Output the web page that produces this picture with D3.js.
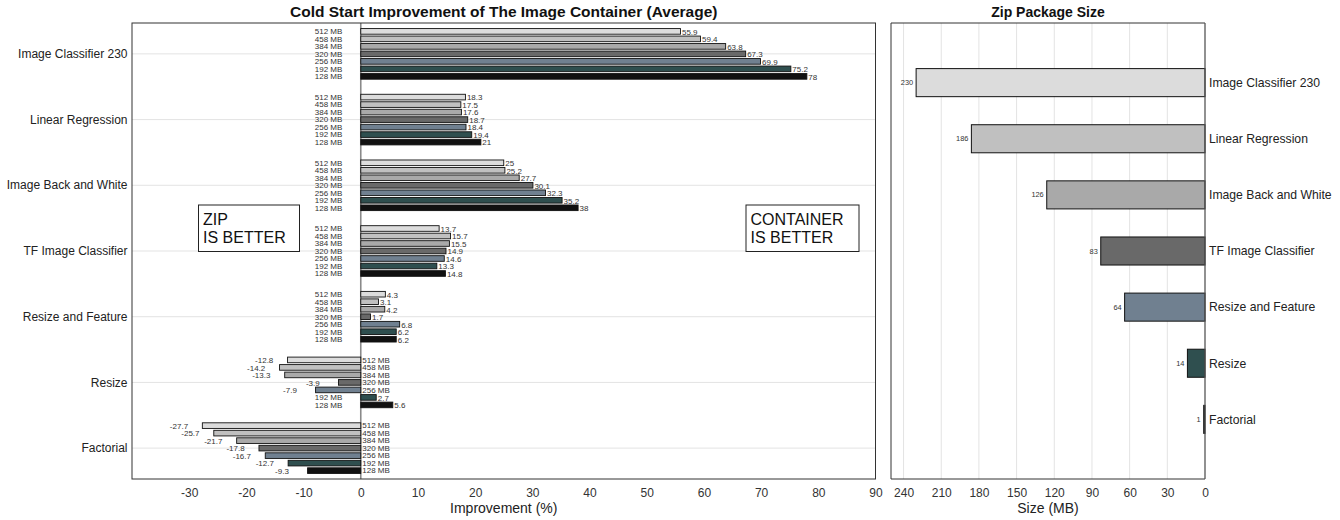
<!DOCTYPE html>
<html><head><meta charset="utf-8">
<script src="https://cdn.jsdelivr.net/npm/d3@7"></script>
<style>
body{margin:0;background:#fff}
text{font-family:"Liberation Sans",Arial,Helvetica,sans-serif}
</style>
</head><body>
<svg id="c" width="1340" height="520"></svg>
<script>
// ---------- data ----------
const categories = ["Image Classifier 230","Linear Regression","Image Back and White","TF Image Classifier","Resize and Feature","Resize","Factorial"];
const memorySizes = ["512 MB","458 MB","384 MB","320 MB","256 MB","192 MB","128 MB"];
const imageClassifier230 = [55.9, 59.4, 63.8, 67.3, 69.9, 75.2, 78];
const linearRegression   = [18.3, 17.5, 17.6, 18.7, 18.4, 19.4, 21];
const imageBackAndWhite  = [25, 25.2, 27.7, 30.1, 32.3, 35.2, 38];
const tfImageClassifier  = [13.7, 15.7, 15.5, 14.9, 14.6, 13.3, 14.8];
const resizeAndFeature   = [4.3, 3.1, 4.2, 1.7, 6.8, 6.2, 6.2];
const resize             = [-12.8, -14.2, -13.3, -3.9, -7.9, 2.7, 5.6];
const factorial          = [-27.7, -25.7, -21.7, -17.8, -16.7, -12.7, -9.3];
const improvementSeries  = [imageClassifier230, linearRegression, imageBackAndWhite, tfImageClassifier, resizeAndFeature, resize, factorial];
const zipSizes = [230, 186, 126, 83, 64, 14, 1];
const memoryColors = ["#dcdcdc","#c0c0c0","#a9a9a9","#696969","#708090","#2f4f4f","#111111"];
const zipColors    = ["#dcdcdc","#c0c0c0","#a9a9a9","#696969","#708090","#2f4f4f","#000000"];
const improvementTicks = [-30,-20,-10,0,10,20,30,40,50,60,70,80,90];
const sizeTicks = [240,210,180,150,120,90,60,30,0];

// ---------- layout ----------
const svg = d3.select("#c");
const yTop = 23, yBottom = 479;
const L = {x0:132, x1:875.5};
const R = {x0:891, x1:1205};
const txt = "#222";
const plain = d => String(d);

// ===== Left chart =====
const x = d3.scaleLinear().domain([-40,90]).range([L.x0, L.x1]);
const y = d3.scalePoint().domain(categories).range([yTop, yBottom]).padding(0.47);
const inner = d3.scaleBand().domain(memorySizes).range([-26.25, 26.25]).paddingInner(0.25).paddingOuter(0.125);

const gl = svg.append("g");
gl.selectAll("line.grid").data(categories).join("line")
  .attr("x1", L.x0).attr("x2", L.x1)
  .attr("y1", d => y(d)).attr("y2", d => y(d))
  .attr("stroke", "#e3e3e3").attr("stroke-width", 1);

gl.append("line").attr("x1", x(0)).attr("x2", x(0)).attr("y1", yTop).attr("y2", yBottom)
  .attr("stroke", "#8a8a8a").attr("stroke-width", 1.6);

const rows = [];
categories.forEach((c, ci) => {
  memorySizes.forEach((m, mi) => {
    rows.push({cat: c, mem: m, mi: mi, v: improvementSeries[ci][mi]});
  });
});
const rowY = d => y(d.cat) + inner(d.mem);
gl.selectAll("rect.bar").data(rows).join("rect")
  .attr("x", d => x(Math.min(0, d.v)))
  .attr("width", d => Math.abs(x(d.v) - x(0)))
  .attr("y", d => rowY(d))
  .attr("height", inner.bandwidth())
  .attr("fill", d => memoryColors[d.mi])
  .attr("stroke", "#111").attr("stroke-width", 0.9);

gl.selectAll("text.mem").data(rows).join("text")
  .attr("x", d => d.v >= 0 ? x(0) - 46 : x(0) + 1.5)
  .attr("y", d => rowY(d) + inner.bandwidth()/2)
  .attr("dy", "0.35em")
  .attr("font-size", 8).attr("fill", "#333")
  .text(d => d.mem);

gl.selectAll("text.val").data(rows).join("text")
  .attr("x", d => d.v >= 0 ? x(d.v) + 1.5 : x(d.v) - 32.5)
  .attr("y", d => rowY(d) + inner.bandwidth()/2 + 0.5)
  .attr("dy", "0.35em")
  .attr("font-size", 8).attr("fill", "#333")
  .text(d => plain(d.v));

gl.append("rect").attr("x", L.x0).attr("y", yTop).attr("width", L.x1 - L.x0).attr("height", yBottom - yTop)
  .attr("fill", "none").attr("stroke", "#333").attr("stroke-width", 1);

gl.selectAll("text.cat").data(categories).join("text")
  .attr("x", L.x0 - 4.5).attr("y", d => y(d)).attr("dy", "0.35em")
  .attr("text-anchor", "end").attr("font-size", 12).attr("fill", txt)
  .text(d => d);

const xAxis = d3.axisBottom(x).tickValues(improvementTicks).tickSize(0).tickPadding(9).tickFormat(plain);
const xa = gl.append("g").attr("transform", `translate(0,${yBottom})`).call(xAxis);
xa.select(".domain").remove();
xa.selectAll("text").attr("font-size", 12).attr("fill", "#333").attr("font-family", '"Liberation Sans",Arial,sans-serif');

gl.append("text").attr("x", (L.x0 + L.x1)/2).attr("y", 513).attr("text-anchor", "middle")
  .attr("font-size", 14).attr("fill", txt).text("Improvement (%)");
gl.append("text").attr("x", (L.x0 + L.x1)/2).attr("y", 17).attr("text-anchor", "middle")
  .attr("font-size", 15.5).attr("font-weight", "bold").attr("fill", "#111")
  .text("Cold Start Improvement of The Image Container (Average)");

function note(bx, lines, w) {
  const g = gl.append("g");
  g.append("rect").attr("x", bx).attr("y", 205).attr("width", w).attr("height", 46.5)
    .attr("fill", "#fff").attr("stroke", "#222").attr("stroke-width", 1);
  lines.forEach((t, i) => g.append("text").attr("x", bx + 4.5).attr("y", 224.5 + i*18.7)
    .attr("font-size", 16).attr("fill", "#111").text(t));
}
note(198.5, ["ZIP", "IS BETTER"], 101);
note(746, ["CONTAINER", "IS BETTER"], 113);

// ===== Right chart =====
const xr = d3.scaleLinear().domain([250, 0]).range([R.x0, R.x1]);
const yr = d3.scaleBand().domain(categories).range([yTop, yBottom]).paddingInner(0.5).paddingOuter(0.8125);
const gr = svg.append("g");

gr.selectAll("line.vgrid").data(sizeTicks.filter(d => d > 0)).join("line")
  .attr("x1", d => xr(d)).attr("x2", d => xr(d)).attr("y1", yTop).attr("y2", yBottom)
  .attr("stroke", "#e3e3e3").attr("stroke-width", 1);

gr.selectAll("rect.zbar").data(categories).join("rect")
  .attr("x", (d, i) => xr(zipSizes[i]))
  .attr("width", (d, i) => xr(0) - xr(zipSizes[i]))
  .attr("y", d => yr(d)).attr("height", yr.bandwidth())
  .attr("fill", (d, i) => zipColors[i])
  .attr("stroke", "#111").attr("stroke-width", 1);

gr.selectAll("text.zval").data(categories).join("text")
  .attr("x", (d, i) => xr(zipSizes[i]) - 3)
  .attr("y", d => yr(d) + yr.bandwidth()/2).attr("dy", "0.35em")
  .attr("text-anchor", "end").attr("font-size", 7.4).attr("fill", "#333")
  .text((d, i) => zipSizes[i]);

gr.append("path").attr("d", `M${R.x1},${yTop}H${R.x0}V${yBottom}H${R.x1}`)
  .attr("fill", "none").attr("stroke", "#333").attr("stroke-width", 1);
gr.append("line").attr("x1", R.x1).attr("x2", R.x1).attr("y1", yTop).attr("y2", yBottom)
  .attr("stroke", "#555").attr("stroke-width", 1.3);

gr.selectAll("text.zcat").data(categories).join("text")
  .attr("x", R.x1 + 4).attr("y", d => yr(d) + yr.bandwidth()/2).attr("dy", "0.35em")
  .attr("font-size", 12.2).attr("fill", txt).text(d => d);

const xrAxis = d3.axisBottom(xr).tickValues(sizeTicks).tickSize(0).tickPadding(9).tickFormat(plain);
const xra = gr.append("g").attr("transform", `translate(0,${yBottom})`).call(xrAxis);
xra.select(".domain").remove();
xra.selectAll("text").attr("font-size", 12).attr("fill", "#333").attr("font-family", '"Liberation Sans",Arial,sans-serif');

gr.append("text").attr("x", (R.x0 + R.x1)/2).attr("y", 513).attr("text-anchor", "middle")
  .attr("font-size", 14).attr("fill", txt).text("Size (MB)");
gr.append("text").attr("x", (R.x0 + R.x1)/2).attr("y", 17).attr("text-anchor", "middle")
  .attr("font-size", 14).attr("font-weight", "bold").attr("fill", "#111")
  .text("Zip Package Size");
</script>
</body></html>
